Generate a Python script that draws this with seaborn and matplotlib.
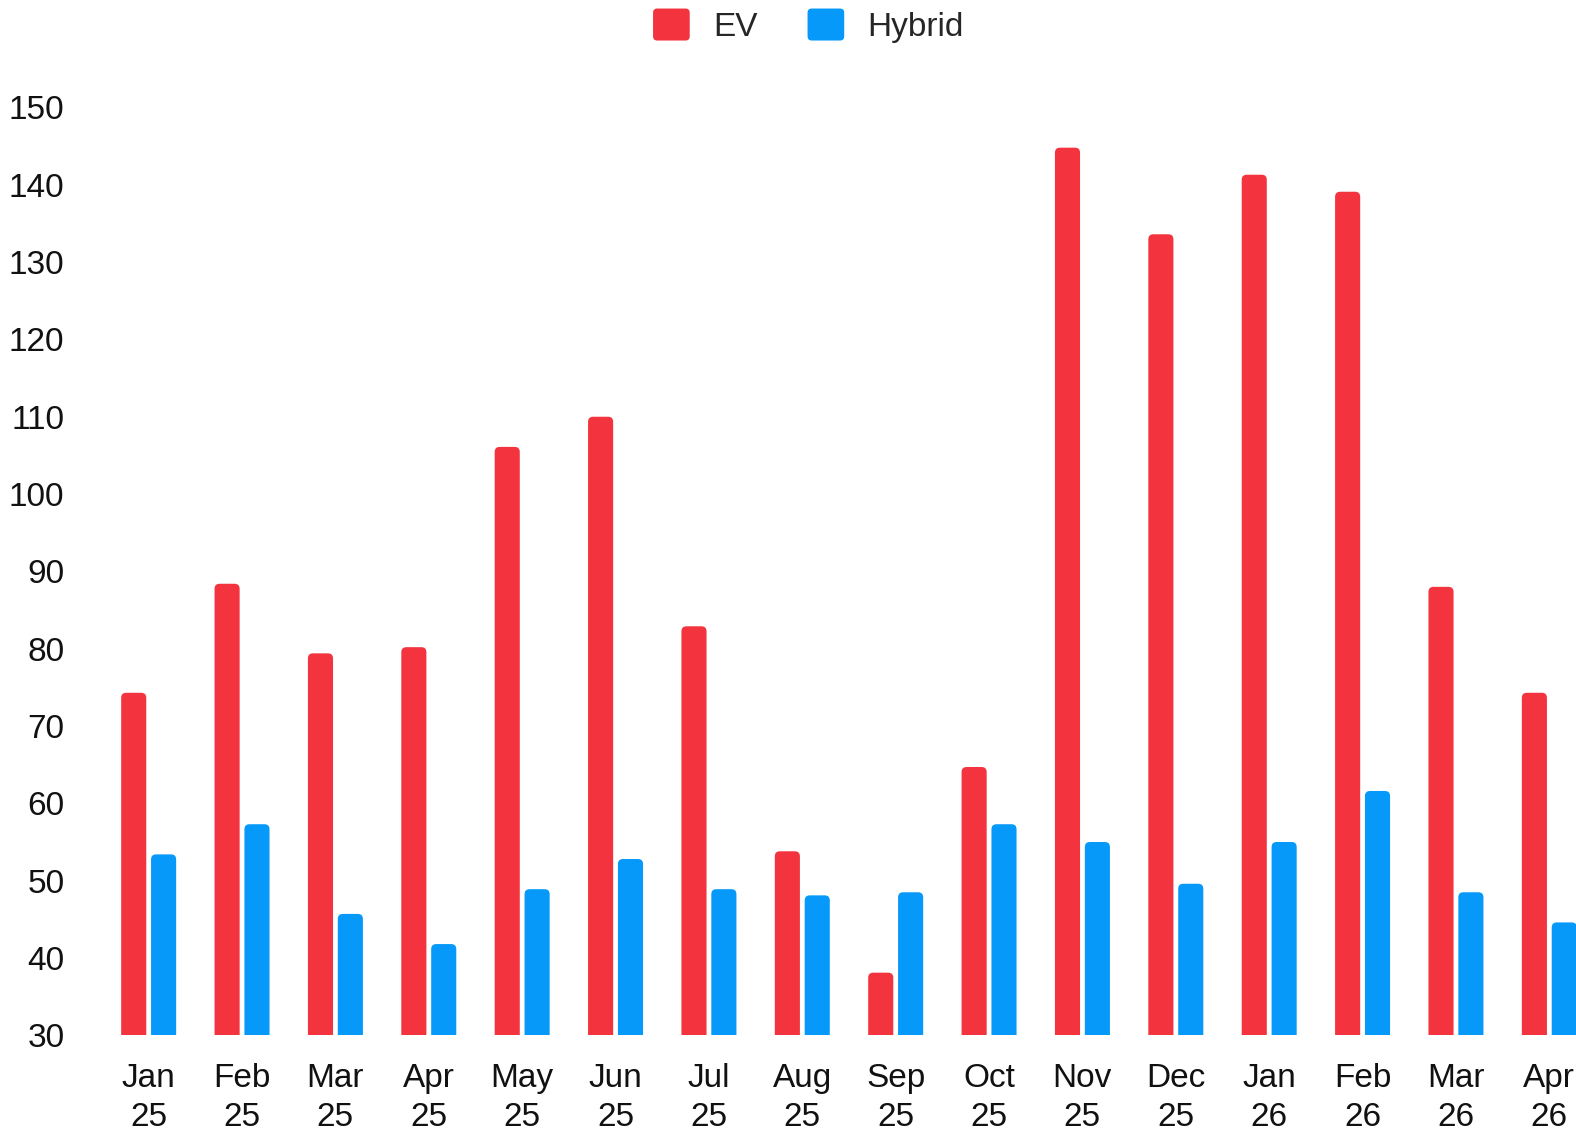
import pandas as pd
import seaborn as sns
import matplotlib.pyplot as plt
from matplotlib.patches import FancyBboxPatch, Patch
from matplotlib.legend_handler import HandlerPatch

months = ['Jan\n25', 'Feb\n25', 'Mar\n25', 'Apr\n25', 'May\n25', 'Jun\n25', 'Jul\n25', 'Aug\n25',
          'Sep\n25', 'Oct\n25', 'Nov\n25', 'Dec\n25', 'Jan\n26', 'Feb\n26', 'Mar\n26', 'Apr\n26']
ev = [74.3, 88.4, 79.4, 80.2, 106.1, 110.0, 82.9, 53.8, 38.1, 64.7, 144.8, 133.6, 141.3, 139.1, 88.0, 74.3]
hybrid = [53.4, 57.3, 45.7, 41.8, 48.9, 52.8, 48.9, 48.1, 48.5, 57.3, 55.0, 49.6, 55.0, 61.6, 48.5, 44.6]
series = ['EV', 'Hybrid']
colors = ['#F3343F', '#0699F9']
yticks = [30, 40, 50, 60, 70, 80, 90, 100, 110, 120, 130, 140, 150]

df = pd.DataFrame({
    'month': months * 2,
    'value': ev + hybrid,
    'series': ['EV'] * len(ev) + ['Hybrid'] * len(hybrid),
})

sns.set_style('white')
plt.rcParams['font.family'] = ['Liberation Sans', 'DejaVu Sans']

fig = plt.figure(figsize=(15.76, 11.3), dpi=100)
ax = fig.add_axes([0.0647, 0.0838, 0.948, 0.8211])

sns.barplot(data=df, x='month', y='value', hue='series', hue_order=series,
            palette=colors, width=0.64, gap=0.16, linewidth=0, saturation=1, ax=ax)

ax.set_xlim(-0.5, 15.5)
ax.set_ylim(30, 150)
ax.set_yticks(yticks)

# swap the bars for ones with rounded tops (bottom rounding falls below the axis and is clipped)
rx = 0.054
aspect = 0.65 / rx
for p in list(ax.patches):
    x0, w, h = p.get_x(), p.get_width(), p.get_height()
    if w == 0 or h == 0:
        continue
    p.set_visible(False)
    top = p.get_y() + h
    rb = FancyBboxPatch((x0, 27), w, top - 27,
                        boxstyle=f'round,pad=0,rounding_size={rx}',
                        mutation_aspect=aspect,
                        facecolor=p.get_facecolor(), linewidth=0)
    ax.add_patch(rb)

sns.despine(ax=ax, left=True, bottom=True)
ax.set_xlabel('')
ax.set_ylabel('')
ax.tick_params(axis='both', length=0, labelsize=24, colors='#111111')
ax.tick_params(axis='y', pad=27)
ax.tick_params(axis='x', pad=20)
for lbl in ax.get_xticklabels():
    lbl.set_linespacing(1.32)


def rounded_handle(legend, orig_handle, xdescent, ydescent, width, height, fontsize):
    return FancyBboxPatch((-xdescent, -ydescent), width, height,
                          boxstyle='round,pad=0,rounding_size=3')


ax.legend_.remove()
handles = [Patch(facecolor=c, linewidth=0) for c in colors]
fig.legend(handles, series, loc='upper center', bbox_to_anchor=(0.513, 1.019), ncol=2,
           frameon=False, fontsize=24, handlelength=1.1, handleheight=1.1,
           handletextpad=0.7, columnspacing=1.5,
           handler_map={Patch: HandlerPatch(patch_func=rounded_handle)})

fig.savefig('out.png', dpi=100)
